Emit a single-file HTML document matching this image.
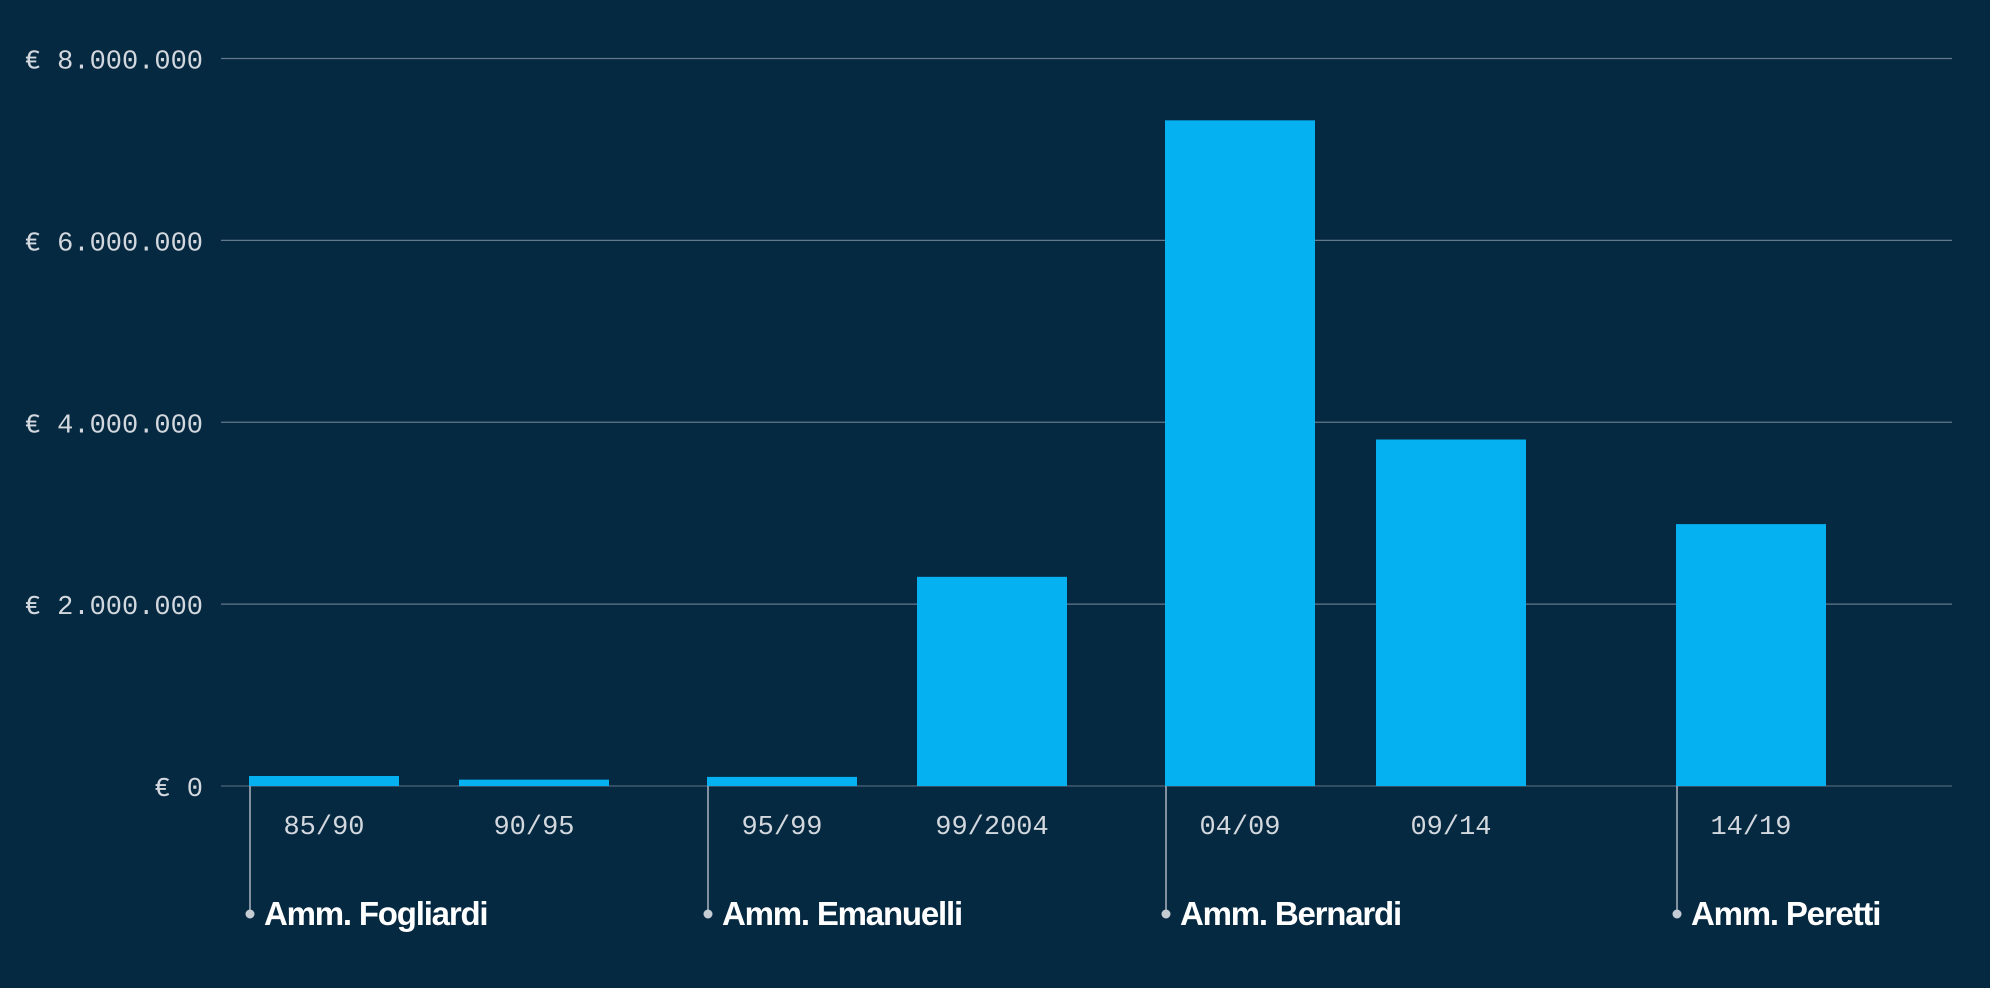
<!DOCTYPE html>
<html><head><meta charset="utf-8"><style>
html,body{margin:0;padding:0;background:#062942;}
svg{display:block}
.tick{font-family:"Liberation Mono",monospace;font-size:27px;fill:#d3d8de}
.adm{font-family:"Liberation Sans",sans-serif;font-weight:bold;font-size:33px;fill:#ffffff;letter-spacing:-1.2px}
</style></head><body>
<svg id="chart" width="1990" height="988" viewBox="0 0 1990 988"></svg>
<script>
const categories=["85/90","90/95","95/99","99/2004","04/09","09/14","14/19"];
const values=[110000,70000,100000,2300000,7320000,3810000,2880000];
const yTicks=[0,2000000,4000000,6000000,8000000];
const yTickLabels=["€ 0","€ 2.000.000","€ 4.000.000","€ 6.000.000","€ 8.000.000"];
const adminNames=["Amm. Fogliardi","Amm. Emanuelli","Amm. Bernardi","Amm. Peretti"];
const adminStart=[0,2,4,6];

const NS="http://www.w3.org/2000/svg";
const svg=document.getElementById('chart');
const centers=[324,534,782,992,1240,1451,1751];
const barW=150,x0=221,x1=1952,y0=786,yTop=58.5;
function y(v){return y0-(v/8000000)*(y0-yTop);}
function mk(t,a,p){const e=document.createElementNS(NS,t);for(const k in a)e.setAttribute(k,a[k]);(p||svg).appendChild(e);return e;}

yTicks.forEach((t,i)=>{
  const l=mk('line',{x1:x0,x2:x1,y1:y(t),y2:y(t),stroke:i===0?'#4d6478':'#62788b','stroke-width':1.3});
  
  
  const tx=mk('text',{x:203,y:y(t)+10,'text-anchor':'end',class:'tick'});
  tx.textContent=yTickLabels[i];
  
  
});
categories.forEach((c,i)=>{
  const r=mk('rect',{x:centers[i]-barW/2,y:y(values[i]),width:barW,height:y0-y(values[i]),fill:'#05b1f1'});
  
  
  const t=mk('text',{x:centers[i],y:834,'text-anchor':'middle',class:'tick'});
  t.textContent=c;
  
  
});
adminNames.forEach((n,i)=>{
  const cx=centers[adminStart[i]]-barW/2+1;
  const l=mk('line',{x1:cx,x2:cx,y1:y0,y2:914,stroke:'#aab4bf','stroke-width':1.5});
  
  
  const c=mk('circle',{cx:cx,cy:914,r:4.5,fill:'#c5ccd4'});
  
  
  const t=mk('text',{x:cx+14,y:925,class:'adm'});
  t.textContent=n;
  
  
});
</script>
</body></html>
